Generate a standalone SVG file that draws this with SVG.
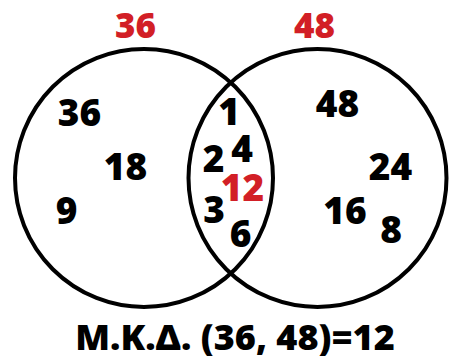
<svg xmlns="http://www.w3.org/2000/svg" width="451" height="359" viewBox="0 0 451 359">
<style>
.c{fill:none;stroke:#000;stroke-width:4}
text{font-family:"Open Sans","DejaVu Sans",sans-serif;font-weight:800;font-size:37px;text-anchor:middle;fill:#000}
.r{fill:#d21f26;font-size:35px}
.f{font-size:36px}
</style>
<rect width="451" height="359" fill="#fff"/>
<g id="setA"><circle class="c" cx="144" cy="178" r="129"/></g>
<g id="setB"><circle class="c" cx="317.5" cy="178" r="129"/></g>
<g id="labels">
<text class="r" x="135.5" y="38">36</text>
<text class="r" x="314.5" y="38">48</text>
<text x="79.5" y="126">36</text>
<text x="125.5" y="180">18</text>
<text x="66.5" y="224">9</text>
<text x="229" y="125">1</text>
<text x="213.5" y="172">2</text>
<text x="242" y="162">4</text>
<text class="r" x="242.5" y="201" style="font-size:37px">12</text>
<text x="214" y="223">3</text>
<text x="240.5" y="247">6</text>
<text x="337.5" y="117">48</text>
<text x="390.5" y="180">24</text>
<text x="345" y="224">16</text>
<text x="391" y="243">8</text>
<text class="f" x="235" y="350">Μ.Κ.Δ. (36, 48)=12</text>
</g>
</svg>
